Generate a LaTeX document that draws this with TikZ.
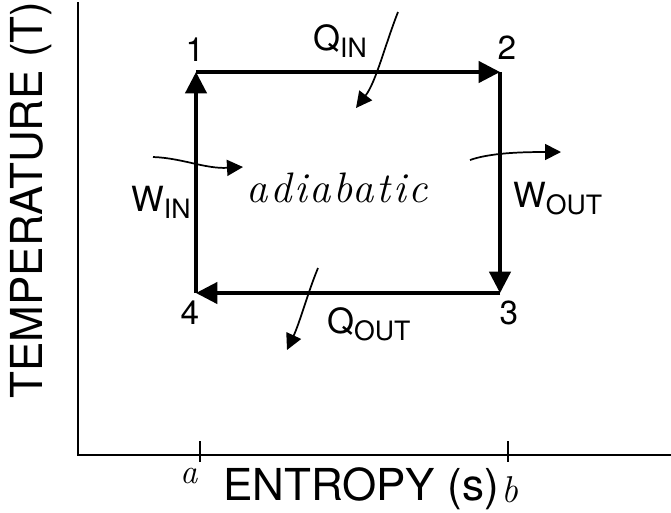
\documentclass[tikz,border=0pt]{standalone}
\usepackage{fontspec}
\setmainfont{TeX Gyre Heros}
\newfontfamily\handfont[LetterSpace=6]{Latin Modern Roman}
\newfontfamily\handsmall{Latin Modern Roman}
\usetikzlibrary{arrows.meta}
\begin{document}
\begin{tikzpicture}[x=0.75pt,y=-0.75pt,
  cyc/.style={line width=2.4pt, -{Triangle[length=16pt,width=16pt]}},
  flow/.style={line width=1.3pt, -{Triangle[length=12pt,width=12pt]}},
  axis/.style={line width=1.4pt},
  ttl/.style={font=\fontsize{33}{35}\selectfont, inner sep=0pt},
  lab/.style={font=\fontsize{25}{27}\selectfont, inner sep=0pt},
  qw/.style={font=\fontsize{26}{28}\selectfont, inner sep=0pt, anchor=base west},
  hand/.style={font=\handfont\itshape\fontsize{32}{34}\selectfont, inner sep=0pt}]
\newcommand{\sbx}[1]{\raisebox{-0.22em}{\fontsize{20}{22}\selectfont #1}}
\useasboundingbox (0,0) rectangle (671,512);
% axes
\coordinate (ytop) at (78,2);
\coordinate (origin) at (78,455);
\coordinate (xend) at (671,455);
\draw[axis] (ytop) -- (origin) -- (xend);
\coordinate (ta1) at (200,441); \coordinate (ta2) at (200,462);
\coordinate (tb1) at (508,441); \coordinate (tb2) at (508,462);
\draw[axis] (ta1) -- (ta2);
\draw[axis] (tb1) -- (tb2);
\node[ttl, rotate=90] (tlab) at (31,200) {TEMPERATURE (T)};
\node[ttl] (slab) at (361,489) {ENTROPY (s)};
\node[font=\handsmall\itshape\fontsize{26}{28}\selectfont, inner sep=0pt] (alab) at (189,476) {a};
\node[font=\handsmall\itshape\fontsize{28}{30}\selectfont, inner sep=0pt] (blab) at (510,490) {b};
% cycle
\coordinate (c1) at (196,72);
\coordinate (c2) at (500,72);
\coordinate (c3) at (500,293);
\coordinate (c4) at (196,293);
\draw[cyc] (c1) -- (c2);
\draw[cyc] (c2) -- (c3);
\draw[cyc] (c3) -- (c4);
\draw[cyc] (c4) -- (c1);
\node[lab] (n1) at (195,50) {1};
\node[lab] (n2) at (507,48) {2};
\node[lab] (n3) at (509,313) {3};
\node[lab] (n4) at (190,313) {4};
% heat and work labels
\node[qw] (qin) at (313,50) {Q\sbx{IN}};
\node[qw] (qout) at (327,333) {Q\sbx{OUT}};
\node[qw] (win) at (131,211) {W\sbx{IN}};
\node[qw] (wout) at (513,207) {W\sbx{OUT}};
\node[hand] (adia) at (337,188) {adiabatic};
% flow arrows
\coordinate (qis) at (398,12); \coordinate (qie) at (356,108);
\draw[flow] (qis) .. controls (385,45) and (376,82) .. (qie);
\coordinate (qos) at (318,268); \coordinate (qoe) at (287,350);
\draw[flow] (qos) .. controls (308,292) and (300,322) .. (qoe);
\coordinate (wis) at (153,157); \coordinate (wie) at (243,167);
\draw[flow] (wis) .. controls (182,158) and (205,169) .. (wie);
\coordinate (wos) at (470,160); \coordinate (woe) at (561,152);
\draw[flow] (wos) .. controls (490,153) and (520,152) .. (woe);
\end{tikzpicture}
\end{document}
